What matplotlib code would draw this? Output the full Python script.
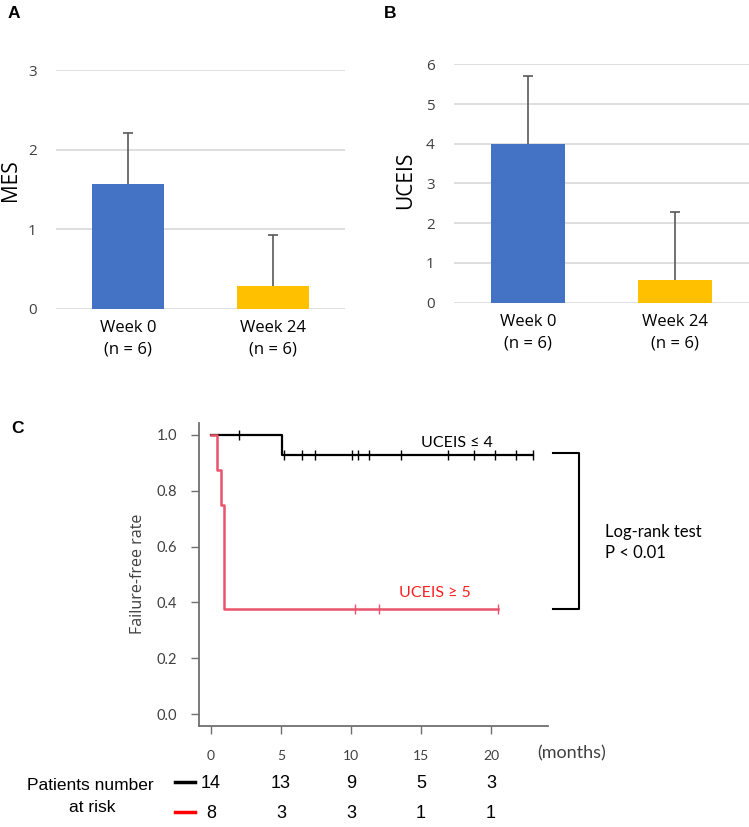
import numpy as np
import matplotlib
matplotlib.use("Agg")
import matplotlib.pyplot as plt
from matplotlib import transforms

# ---------------- data ----------------
groups = ["Week 0\n(n = 6)", "Week 24\n(n = 6)"]
mes_mean = [1.57, 0.29]
mes_sd = [0.64, 0.64]
uceis_mean = [4.0, 0.57]
uceis_sd = [1.70, 1.71]
bar_colors = ["#4472C4", "#FFC000"]

# Kaplan-Meier step data (months, failure-free rate)
low_times = [0.0, 5.05, 23.0]
low_surv = [1.0, 13 / 14, 13 / 14]
low_censor = [2.0, 5.2, 6.5, 7.4, 10.1, 10.5, 11.3, 13.6, 16.9, 18.8, 20.3, 21.8, 23.0]

high_times = [0.0, 0.41, 0.69, 0.93, 20.5]
high_surv = [1.0, 0.875, 0.75, 0.375, 0.375]
high_censor = [10.3, 12.0, 20.5]

risk_times = [0, 5, 10, 15, 20]
risk_low = [14, 13, 9, 5, 3]
risk_high = [8, 3, 3, 1, 1]

W, H = 749, 827
fig = plt.figure(figsize=(W / 100, H / 100), dpi=100)

def fx(px):
    return px / W

def fy(py):
    return 1 - py / H

UI = ["Open Sans", "DejaVu Sans"]
CAL = ["Lato", "DejaVu Sans"]
ARIAL = ["Liberation Sans", "DejaVu Sans"]

def bar_panel(rect, means, sds, ymax, step):
    ax = fig.add_axes(rect)
    x = np.arange(len(means))
    ax.bar(x, means, width=0.5, color=bar_colors, zorder=2)
    tops = np.array(means) + np.array(sds)
    ax.vlines(x, means, tops, color="#595959", lw=1.2, zorder=3)
    ax.plot(x, tops, ls="none", marker="_", ms=7, mew=1.2, color="#595959", zorder=3)
    ax.set_xlim(-0.5, len(means) - 0.5)
    ax.set_ylim(0, ymax)
    ax.set_yticks(np.arange(0, ymax + 0.01, step))
    ax.yaxis.grid(True, color="#d9d9d9", lw=1.2, zorder=0)
    ax.set_axisbelow(True)
    for s in ax.spines.values():
        s.set_visible(False)
    ax.tick_params(axis="y", length=0, pad=14, labelsize=11, labelcolor="#404040")
    ax.tick_params(axis="x", length=0, pad=8)
    ax.set_xticks(x)
    ax.set_xticklabels(groups, fontsize=12, linespacing=1.45, family=UI)
    for t in ax.get_yticklabels():
        t.set_family(UI)
    return ax

axA = bar_panel([fx(56), fy(309), fx(345 - 56), (309 - 70.3) / H], mes_mean, mes_sd, 3, 1)
axB = bar_panel([fx(454.3), fy(302.7), fx(749 - 454.3), (302.7 - 64.3) / H], uceis_mean, uceis_sd, 6, 1)

fig.text(fx(11), fy(180), "MES", rotation=90, ha="center", va="center", fontsize=15, family=UI)
fig.text(fx(406), fy(180), "UCEIS", rotation=90, ha="center", va="center", fontsize=15, family=UI)

for lab, xx, yy in [("A", 14, 13), ("B", 390, 13), ("C", 18, 428)]:
    fig.text(fx(xx), fy(yy), lab, ha="center", va="center", fontsize=12.5, fontweight="bold", family=ARIAL)

# ---------------- Kaplan-Meier panel ----------------
axC = fig.add_axes([fx(199), fy(726), fx(548 - 199), (726 - 423) / H])
axC.set_xlim(-0.857, 24.07)
axC.set_ylim(-0.042, 1.042)

red = "#E8546A"

def surv_at(times, surv, t):
    idx = np.searchsorted(times, t, side="right") - 1
    return np.array(surv)[idx]

axC.step(low_times, low_surv, where="post", color="black", lw=1.6, zorder=3)
axC.plot(low_censor, surv_at(low_times, low_surv, low_censor), ls="none", marker="|",
         ms=7, mew=1.0, color="black", zorder=3)
axC.step(high_times, high_surv, where="post", color=red, lw=1.8, zorder=4)
axC.plot(high_censor, surv_at(high_times, high_surv, high_censor), ls="none", marker="|",
         ms=7, mew=1.0, color=red, zorder=4)

axC.set_yticks([0.0, 0.2, 0.4, 0.6, 0.8, 1.0])
axC.set_yticklabels(["0.0", "0.2", "0.4", "0.6", "0.8", "1.0"])
axC.set_xticks(risk_times)
for s in ["top", "right"]:
    axC.spines[s].set_visible(False)
for s in ["left", "bottom"]:
    axC.spines[s].set_color("#707070")
    axC.spines[s].set_linewidth(1.3)
axC.tick_params(axis="y", length=6, width=1, color="#707070", pad=10, labelsize=10.5,
                labelcolor="#404040")
axC.tick_params(axis="x", length=6, width=1, color="#707070", pad=11, labelsize=10,
                labelcolor="#404040")
for t in axC.get_yticklabels() + axC.get_xticklabels():
    t.set_family(CAL)

fig.text(fx(138), fy(574), "Failure-free rate", rotation=90, ha="center", va="center",
         fontsize=11.5, color="#404040", family=UI)

axC.text(17.55, 0.969, "UCEIS ≤ 4", ha="center", va="center", fontsize=11.5, family=CAL, color="black")
axC.text(16.0, 0.4326, "UCEIS ≥ 5", ha="center", va="center", fontsize=11.5, family=CAL, color="#FF1F1F")

# bracket
bx0, bx1 = 24.45, 26.29
axC.plot([bx0, bx1, bx1, bx0], [low_surv[-1] + 0.007, low_surv[-1] + 0.007, high_surv[-1], high_surv[-1]],
         color="black", lw=1.5, clip_on=False)
axC.text(28.14, 0.653, "Log-rank test", ha="left", va="center", fontsize=12, family=CAL)
axC.text(28.14, 0.576, "P < 0.01", ha="left", va="center", fontsize=12, family=CAL)

blend = transforms.blended_transform_factory(axC.transData, fig.transFigure)
axC.text(23.29, fy(753), "(months)", transform=blend, ha="left", va="center", fontsize=13,
         family=CAL, color="#404040")

for t, a, b in zip(risk_times, risk_low, risk_high):
    axC.text(t, fy(783), str(a), transform=blend, ha="center", va="center", fontsize=13, family=ARIAL)
    axC.text(t, fy(813), str(b), transform=blend, ha="center", va="center", fontsize=13, family=ARIAL)

fig.text(fx(90), fy(786), "Patients number", ha="center", va="center", fontsize=12.5, family=ARIAL)
fig.text(fx(92), fy(807), "at risk", ha="center", va="center", fontsize=12.5, family=ARIAL)
fig.add_artist(plt.Line2D([fx(175), fx(195)], [fy(782), fy(782)], color="black", lw=2.5))
fig.add_artist(plt.Line2D([fx(175), fx(195)], [fy(811.7), fy(811.7)], color="red", lw=2.5))

fig.savefig("out.png", dpi=100, facecolor="white")
